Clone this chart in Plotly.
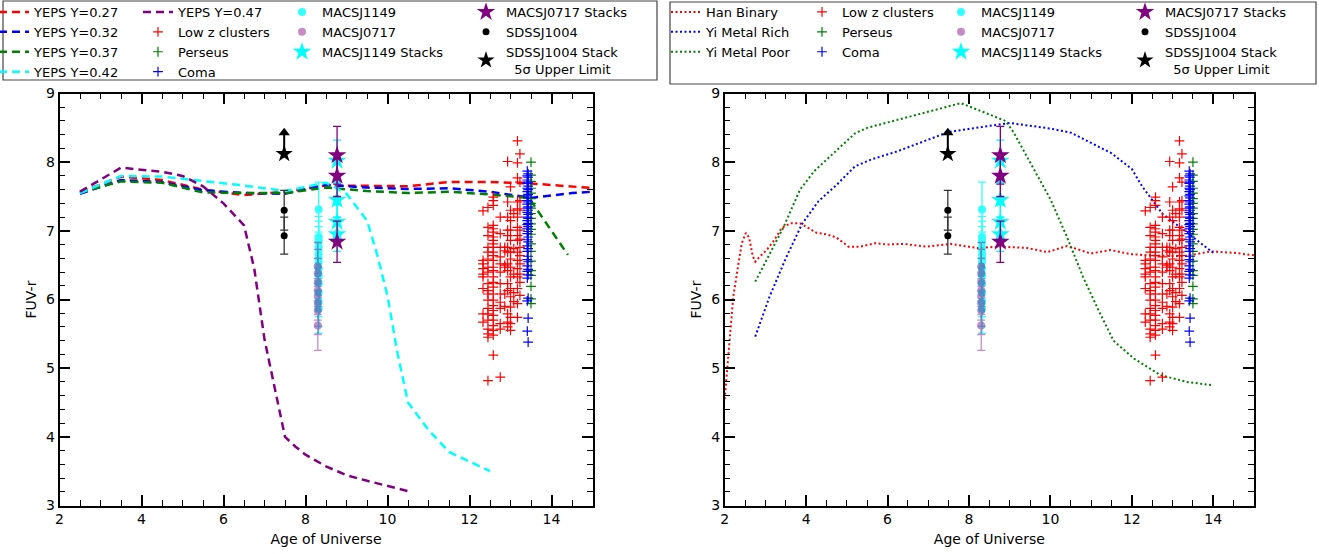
import plotly.graph_objects as go

W, H = 1319, 554
FONT = "DejaVu Sans"

# ---------------- YEPS models (left panel) ----------------
yeps027_x = [2.5, 3.5, 4.5, 5.5, 6.5, 7.5, 8.5, 9.5, 10.5, 11.5, 12.5, 13.5, 14.5, 15.5]
yeps027_y = [7.56, 7.79, 7.74, 7.60, 7.52, 7.57, 7.66, 7.66, 7.65, 7.71, 7.71, 7.69, 7.64, 7.60]
yeps032_x = [2.5, 3.5, 4.5, 5.5, 6.5, 7.5, 8.5, 9.5, 10.5, 11.5, 12.5, 13.5, 14.5, 15.5]
yeps032_y = [7.54, 7.74, 7.71, 7.59, 7.55, 7.54, 7.67, 7.63, 7.61, 7.62, 7.57, 7.48, 7.55, 7.59]
yeps037_x = [2.5, 3.5, 4.5, 5.5, 6.5, 7.5, 8.5, 9.5, 10.5, 11.5, 12.5, 13.45, 14.4]
yeps037_y = [7.56, 7.72, 7.70, 7.56, 7.55, 7.55, 7.63, 7.58, 7.55, 7.57, 7.53, 7.48, 6.65]
yeps042_x = [2.5, 3.5, 4.5, 5.5, 6.5, 7.5, 8.5, 9.0, 9.5, 9.75, 10.0, 10.25, 10.5, 11.0, 11.5, 12.0, 12.5]
yeps042_y = [7.55, 7.80, 7.79, 7.73, 7.66, 7.58, 7.70, 7.54, 7.15, 6.65, 6.05, 5.20, 4.50, 4.10, 3.78, 3.64, 3.50]
yeps047_x = [2.5, 3.5, 4.5, 5.0, 5.5, 6.0, 6.5, 6.75, 7.0, 7.25, 7.5, 7.75, 8.0, 8.5, 9.0, 9.5, 10.0, 10.5]
yeps047_y = [7.57, 7.92, 7.86, 7.80, 7.65, 7.40, 7.08, 6.45, 5.42, 4.70, 4.00, 3.86, 3.74, 3.57, 3.44, 3.36, 3.29, 3.21]

# ---------------- Other models (right panel) ----------------
han_x = [2.0, 2.05, 2.13, 2.21, 2.34, 2.42, 2.52, 2.6, 2.69, 2.75, 2.87, 3.03, 3.2, 3.4, 3.61, 3.85,
         4.06, 4.26, 4.51, 4.75, 5.04, 5.33, 5.7, 5.98, 6.39, 6.97, 7.54, 8.2, 8.77, 9.43, 9.92,
         10.41, 10.99, 11.48, 11.97, 12.5, 13.28, 13.94, 14.51, 15.05]
han_y = [4.55, 4.92, 5.55, 6.04, 6.53, 6.82, 6.97, 6.90, 6.63, 6.55, 6.63, 6.72, 6.85, 7.04, 7.11, 7.11,
         7.04, 6.97, 6.95, 6.90, 6.77, 6.77, 6.82, 6.80, 6.81, 6.77, 6.81, 6.75, 6.77, 6.75, 6.69,
         6.78, 6.67, 6.72, 6.66, 6.64, 6.63, 6.70, 6.68, 6.64]
yi_rich_x = [2.75, 3.1, 3.5, 3.9, 4.3, 4.75, 5.2, 5.6, 6.25, 7.5, 8.75, 9.0, 10.0, 10.5, 11.5, 12.0,
             12.25, 12.75, 13.3, 14.0]
yi_rich_y = [5.46, 6.04, 6.60, 7.10, 7.43, 7.67, 7.94, 8.04, 8.16, 8.44, 8.55, 8.57, 8.49, 8.43, 8.13, 7.90,
             7.65, 7.25, 7.00, 6.68]
yi_poor_x = [2.75, 3.1, 3.45, 3.85, 4.2, 4.6, 5.2, 5.5, 6.0, 6.75, 7.8, 8.9, 9.1, 9.6, 10.0, 10.4,
             10.8, 11.2, 11.55, 12.05, 12.7, 13.35, 14.0]
yi_poor_y = [6.26, 6.67, 7.06, 7.60, 7.87, 8.09, 8.42, 8.50, 8.58, 8.70, 8.86, 8.60, 8.43, 7.89, 7.46, 6.92,
             6.33, 5.82, 5.40, 5.14, 4.90, 4.80, 4.75]

# ---------------- Low redshift clusters ----------------
lowz_x = ([12.33] * 9 + [12.45] * 19 + [12.58] * 28 + [12.75] * 13 + [12.86] * 6 +
          [12.93] * 14 + [13.0] * 15 + [13.08] * 5 + [13.17] * 16 + [13.23] * 12)
lowz_y = [7.29, 6.57, 6.52, 6.45, 6.37, 6.33, 6.16, 5.79, 5.67,
          7.34, 7.05, 6.93, 6.76, 6.69, 6.59, 6.47, 6.40, 6.23, 6.13, 6.08, 5.99, 5.87, 5.79, 5.70, 5.57, 5.50, 5.45, 4.82,
          7.49, 7.44, 7.37, 7.08, 7.03, 6.98, 6.91, 6.86, 6.81, 6.76, 6.69, 6.64, 6.57, 6.47, 6.42, 6.33, 6.25, 6.18,
          6.08, 5.99, 5.91, 5.84, 5.77, 5.70, 5.62, 5.55, 5.48, 5.19,
          7.20, 6.96, 6.76, 6.62, 6.52, 6.40, 6.23, 6.08, 5.96, 5.87, 5.65, 5.57, 4.87,
          6.76, 6.71, 6.50, 6.47, 6.08, 5.90,
          8.01, 7.42, 7.20, 7.01, 6.93, 6.76, 6.69, 6.52, 6.42, 6.23, 6.13, 5.79, 5.67, 5.60,
          7.64, 7.30, 7.15, 7.01, 6.86, 6.69, 6.59, 6.47, 6.33, 6.16, 6.04, 5.89, 5.74, 5.65, 5.55,
          7.25, 6.74, 6.37, 6.10, 5.97,
          8.31, 7.99, 7.77, 7.42, 7.32, 7.20, 7.05, 6.93, 6.86, 6.69, 6.57, 6.45, 6.33, 6.16, 5.94, 5.74,
          8.12, 7.71, 7.44, 7.30, 7.01, 6.88, 6.76, 6.64, 6.52, 6.37, 6.25, 6.06]

perseus_y = [8.00, 7.81, 7.72, 7.62, 7.55, 7.47, 7.40, 7.33, 7.25, 7.18, 7.10, 7.02, 6.95, 6.81, 6.70,
             6.56, 6.42, 6.35, 6.19, 6.01, 5.94]
perseus_x = [13.5] * len(perseus_y)

coma_y = [7.87, 7.83, 7.80, 7.78, 7.74, 7.71, 7.69, 7.65, 7.62, 7.60, 7.57, 7.53, 7.51, 7.48, 7.44, 7.42,
          7.39, 7.35, 7.33, 7.30, 7.27, 7.24, 7.20, 7.18, 7.15, 7.11, 7.09, 7.06, 7.03, 6.99, 6.96, 6.91,
          6.87, 6.84, 6.78, 6.74, 6.70, 6.63, 6.58, 6.55, 6.49, 6.44, 6.41, 6.36, 6.31, 6.02, 5.98, 5.73,
          5.54, 5.38]
coma_x = [13.41, 13.43] * (len(coma_y) // 2)

# ---------------- High redshift clusters ----------------
m1149_y = [7.31, 6.91, 6.84, 6.76, 6.66, 6.55, 6.45, 6.36, 6.24, 6.10, 5.96, 5.86]
m1149_e = [0.40, 0.30, 0.30, 0.30, 0.32, 0.32, 0.32, 0.35, 0.35, 0.35, 0.35, 0.35]
m1149_x = [8.32] * len(m1149_y)
m0717_y = [6.48, 6.38, 6.25, 6.13, 6.05, 5.95, 5.84, 5.62]
m0717_e = [0.35, 0.35, 0.35, 0.35, 0.35, 0.35, 0.35, 0.36]
m0717_x = [8.30] * len(m0717_y)
m1149s_y = [8.02, 7.45, 7.13, 6.95]
m1149s_e = [0.30, 0.25, 0.25, 0.25]
m1149s_x = [8.77] * len(m1149s_y)
m0717s_y = [8.10, 7.80, 6.84]
m0717s_e = [0.42, 0.30, 0.30]
m0717s_x = [8.77] * len(m0717s_y)
sdss_y = [7.30, 6.93]
sdss_e = [0.29, 0.27]
sdss_x = [7.48, 7.48]
sdss_lim_x = [7.48]
sdss_lim_y = [8.12]
arrow_len = 0.36

fig = go.Figure()


def add(tr):
    fig.add_trace(tr)


def lines(x, y, name, color, dash, width, xa, ya, leg):
    add(go.Scatter(x=x, y=y, mode="lines", name=name, xaxis=xa, yaxis=ya, legend=leg,
                   line=dict(color=color, dash=dash, width=width)))


# left panel model lines
DASH = "8px,5px"
lines(yeps027_x, yeps027_y, "YEPS Y=0.27", "#ff0000", DASH, 2.5, "x", "y", "legend")
lines(yeps032_x, yeps032_y, "YEPS Y=0.32", "#0000ff", DASH, 2.5, "x", "y", "legend")
lines(yeps037_x, yeps037_y, "YEPS Y=0.37", "#008000", DASH, 2.5, "x", "y", "legend")
lines(yeps042_x, yeps042_y, "YEPS Y=0.42", "#00ffff", DASH, 2.5, "x", "y", "legend")
lines(yeps047_x, yeps047_y, "YEPS Y=0.47", "#800080", DASH, 2.5, "x", "y", "legend2")

# right panel model lines
DOT = "2px,2.5px"
lines(han_x, han_y, "Han Binary", "#ff0000", DOT, 2, "x2", "y2", "legend5")
lines(yi_rich_x, yi_rich_y, "Yi Metal Rich", "#0000ff", DOT, 2, "x2", "y2", "legend5")
lines(yi_poor_x, yi_poor_y, "Yi Metal Poor", "#008000", DOT, 2, "x2", "y2", "legend5")


def plus_marker(color):
    return dict(color=color, symbol="cross-thin", size=7, line=dict(width=1.2, color=color))


def add_data(xa, ya, l_plus, l_circ, l_star):
    add(go.Scatter(x=lowz_x, y=lowz_y, mode="markers", name="Low z clusters", xaxis=xa, yaxis=ya,
                   legend=l_plus, marker=plus_marker("#ff0000")))
    add(go.Scatter(x=perseus_x, y=perseus_y, mode="markers", name="Perseus", xaxis=xa, yaxis=ya,
                   legend=l_plus, marker=plus_marker("#008000")))
    add(go.Scatter(x=coma_x, y=coma_y, mode="markers", name="Coma", xaxis=xa, yaxis=ya,
                   legend=l_plus, marker=plus_marker("#0000ff")))
    # MACSJ1149 and MACSJ0717 galaxies
    add(go.Scatter(x=m1149_x, y=m1149_y, mode="markers", name="MACSJ1149", xaxis=xa, yaxis=ya,
                   legend=l_circ, opacity=0.8,
                   marker=dict(color="#00ffff", size=8, symbol="circle"),
                   error_y=dict(type="data", array=m1149_e, color="#00ffff", thickness=1.3, width=4)))
    add(go.Scatter(x=m0717_x, y=m0717_y, mode="markers", name="MACSJ0717", xaxis=xa, yaxis=ya,
                   legend=l_circ, opacity=0.45,
                   marker=dict(color="#800080", size=8, symbol="circle"),
                   error_y=dict(type="data", array=m0717_e, color="#800080", thickness=1.3, width=4)))
    add(go.Scatter(x=m1149s_x, y=m1149s_y, mode="markers", name="MACSJ1149 Stacks", xaxis=xa, yaxis=ya,
                   legend=l_circ,
                   marker=dict(color="#00ffff", size=14, symbol="star", line=dict(width=0)),
                   error_y=dict(type="data", array=m1149s_e, color="#00ffff", thickness=1.3, width=4)))
    add(go.Scatter(x=m0717s_x, y=m0717s_y, mode="markers", name="MACSJ0717 Stacks", xaxis=xa, yaxis=ya,
                   legend=l_star,
                   marker=dict(color="#800080", size=14, symbol="star", line=dict(width=0)),
                   error_y=dict(type="data", array=m0717s_e, color="#800080", thickness=1.3, width=4)))
    add(go.Scatter(x=sdss_x, y=sdss_y, mode="markers", name="SDSSJ1004", xaxis=xa, yaxis=ya,
                   legend=l_star,
                   marker=dict(color="black", size=7, symbol="circle"),
                   error_y=dict(type="data", array=sdss_e, color="#333333", thickness=1.3, width=4)))
    # upper limit arrow
    add(go.Scatter(x=[sdss_lim_x[0], sdss_lim_x[0]],
                   y=[sdss_lim_y[0], sdss_lim_y[0] + arrow_len - 0.05],
                   mode="lines", showlegend=False, xaxis=xa, yaxis=ya, legend=l_star,
                   line=dict(color="black", width=2)))
    add(go.Scatter(x=sdss_lim_x, y=[sdss_lim_y[0] + arrow_len - 0.05], mode="markers",
                   showlegend=False, xaxis=xa, yaxis=ya, legend=l_star,
                   marker=dict(color="black", size=10, symbol="triangle-up")))
    add(go.Scatter(x=sdss_lim_x, y=sdss_lim_y, mode="markers",
                   name="SDSSJ1004 Stack<br>  5σ Upper Limit", xaxis=xa, yaxis=ya, legend=l_star,
                   marker=dict(color="black", size=13, symbol="star", line=dict(width=0))))


add_data("x", "y", "legend2", "legend3", "legend4")
add_data("x2", "y2", "legend6", "legend7", "legend8")


def xax(domain, anchor):
    return dict(domain=domain, anchor=anchor, range=[2, 15], dtick=2, tick0=2,
                showline=True, linecolor="black", linewidth=1.5, mirror="ticks",
                ticks="inside", ticklen=11, tickwidth=1.5, tickcolor="black",
                minor=dict(ticks="inside", ticklen=6, tickwidth=1.2, tickcolor="black", dtick=0.5),
                showgrid=False, zeroline=False,
                tickfont=dict(family=FONT, size=14, color="black"),
                title=dict(text="Age of Universe", font=dict(family=FONT, size=14, color="black"),
                           standoff=8))


def yax(domain, anchor):
    return dict(domain=domain, anchor=anchor, range=[3, 9], dtick=1, tick0=3,
                showline=True, linecolor="black", linewidth=1.5, mirror="ticks",
                ticks="inside", ticklen=11, tickwidth=1.5, tickcolor="black",
                minor=dict(ticks="inside", ticklen=6, tickwidth=1.2, tickcolor="black", dtick=0.2),
                showgrid=False, zeroline=False,
                tickfont=dict(family=FONT, size=14, color="black"),
                title=dict(text="FUV-r", font=dict(family=FONT, size=14, color="black"), standoff=6))


ydom = [(H - 505.5) / H, (H - 93.5) / H]


def leg(text_x):
    return dict(x=(text_x - 42) / W, xanchor="left", y=1 + 3 / H, yanchor="top",
                bgcolor="rgba(0,0,0,0)", borderwidth=0, tracegroupgap=0,
                font=dict(family=FONT, size=13, color="black"))


fig.update_layout(
    width=W, height=H,
    margin=dict(l=0, r=0, t=0, b=0, autoexpand=False),
    paper_bgcolor="white", plot_bgcolor="white",
    font=dict(family=FONT, size=14, color="black"),
    xaxis=xax([59.5 / W, 592.5 / W], "y"),
    yaxis=yax(ydom, "x"),
    xaxis2=xax([724.7 / W, 1254 / W], "y2"),
    yaxis2=yax(ydom, "x2"),
    legend=leg(36), legend2=leg(180), legend3=leg(324), legend4=leg(508),
    legend5=leg(708), legend6=leg(844), legend7=leg(983), legend8=leg(1167),
    shapes=[
        dict(type="rect", xref="paper", yref="paper", x0=3 / W, x1=657 / W, y0=1 - 80 / H, y1=1 - 1 / H,
             line=dict(color="#444444", width=1.2)),
        dict(type="rect", xref="paper", yref="paper", x0=670 / W, x1=1316 / W, y0=1 - 84 / H, y1=1 - 2 / H,
             line=dict(color="#444444", width=1.2)),
    ],
)

fig.write_html("out.html", config={"displayModeBar": False},
               post_script="document.body.style.margin='0px';")
